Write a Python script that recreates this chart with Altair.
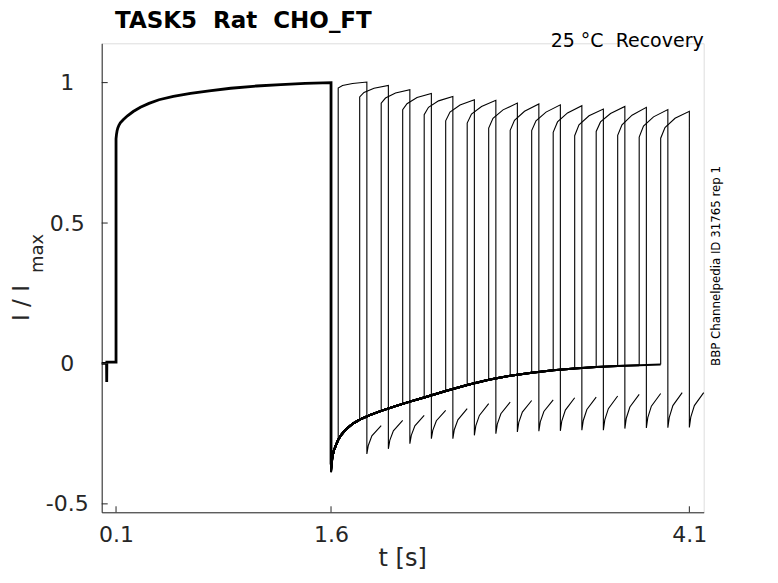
import altair as alt
import pandas as pd

# ---------------- data ----------------
# common first part (holding + conditioning pulse), identical in all sweeps
pre_t = [0.0, 0.034, 0.035, 0.036, 0.1, 0.1, 0.103, 0.107, 0.112, 0.12, 0.13, 0.15, 0.18, 0.22,
         0.27, 0.33, 0.40, 0.50, 0.62, 0.75, 0.90, 1.08, 1.25, 1.42, 1.6, 1.6]
pre_v = [0.0, 0.0, -0.066, 0.005, 0.005, 0.80, 0.815, 0.828, 0.838, 0.848, 0.857, 0.868, 0.882, 0.897,
         0.912, 0.926, 0.939, 0.951, 0.962, 0.971, 0.980, 0.988, 0.993, 0.997, 1.0, -0.36]

# tail current after the conditioning pulse (shared shape)
tail_t = [1.61, 1.62, 1.635, 1.65, 1.67, 1.70, 1.75, 1.80, 1.87, 1.95, 2.05, 2.15, 2.25, 2.40,
          2.55, 2.70, 2.85, 3.00, 3.15, 3.30, 3.45, 3.60, 3.75, 3.90]
tail_v = [-0.33, -0.31, -0.29, -0.272, -0.255, -0.237, -0.215, -0.200, -0.184, -0.169, -0.152, -0.136,
          -0.121, -0.098, -0.077, -0.058, -0.044, -0.033, -0.024, -0.018, -0.013, -0.009, -0.006, -0.004]

# per sweep
rec_start = [1.65, 1.80, 1.95, 2.10, 2.25, 2.40, 2.55, 2.70, 2.85, 3.00, 3.15, 3.30, 3.45, 3.60, 3.75, 3.90]
rec_end = [1.85, 2.00, 2.15, 2.30, 2.45, 2.60, 2.75, 2.90, 3.05, 3.20, 3.35, 3.50, 3.65, 3.80, 3.95, 4.10]
tail_min = [-0.335, -0.34, -0.345, -0.35, -0.355, -0.36, -0.365, -0.37, -0.372, -0.375, -0.378, -0.38, -0.382, -0.384, -0.386, -0.388]
tail_at_start = [-0.272, -0.200, -0.169, -0.144, -0.121, -0.098, -0.077, -0.058, -0.044, -0.033, -0.024, -0.018, -0.013, -0.009, -0.006, -0.004]

# test pulse (offsets from its start)
pulse_dt = [0.0, 0.03, 0.10, 0.20]
pulse_v0 = [0.981, 0.949, 0.927, 0.904, 0.886, 0.864, 0.856, 0.838, 0.830, 0.829, 0.823, 0.811, 0.826, 0.812, 0.806, 0.802]
pulse_v1 = [0.990, 0.965, 0.945, 0.925, 0.912, 0.895, 0.888, 0.873, 0.866, 0.864, 0.860, 0.850, 0.860, 0.850, 0.845, 0.840]
pulse_v2 = [0.997, 0.980, 0.963, 0.947, 0.935, 0.920, 0.915, 0.903, 0.898, 0.895, 0.892, 0.882, 0.890, 0.884, 0.878, 0.873]
pulse_v3 = [1.002, 0.990, 0.975, 0.961, 0.951, 0.939, 0.937, 0.927, 0.924, 0.921, 0.918, 0.906, 0.915, 0.912, 0.904, 0.898]

# tail hook after the test pulse (offsets from its end)
hook_dt = [0.0, 0.01, 0.035, 0.10]
hook_v0 = [-0.322, -0.304, -0.286, -0.268, -0.268, -0.256, -0.250, -0.244, -0.241, -0.240, -0.238, -0.238, -0.232, -0.230, -0.229, -0.228]
hook_v1 = [-0.292, -0.274, -0.256, -0.238, -0.236, -0.222, -0.216, -0.210, -0.208, -0.205, -0.203, -0.201, -0.195, -0.193, -0.192, -0.191]
hook_v2 = [-0.258, -0.240, -0.222, -0.204, -0.201, -0.185, -0.179, -0.173, -0.171, -0.166, -0.164, -0.161, -0.155, -0.152, -0.150, -0.150]
hook_v3 = [-0.221, -0.203, -0.185, -0.167, -0.161, -0.143, -0.138, -0.132, -0.130, -0.122, -0.120, -0.116, -0.110, -0.107, -0.104, -0.104]

x_ticks = [0.1, 1.6, 4.1]
y_ticks = [-0.5, 0, 0.5, 1]

# ---------------- build tables ----------------
pre_rows = [{"seg": "pre", "i": j, "t": t, "v": v} for j, (t, v) in enumerate(zip(pre_t, pre_v))]

tail_rows = []
pulse_rows = []
for k in range(len(rec_start)):
    s = rec_start[k]
    e = rec_end[k]
    pts = [(1.6, tail_min[k])] + [(t, v) for t, v in zip(tail_t, tail_v) if t < s - 1e-9] + [(s, tail_at_start[k])]
    for j, (t, v) in enumerate(pts):
        tail_rows.append({"seg": f"tail{k}", "i": j, "t": t, "v": v})
    pv = [pulse_v0[k], pulse_v1[k], pulse_v2[k], pulse_v3[k]]
    hv = [hook_v0[k], hook_v1[k], hook_v2[k], hook_v3[k]]
    pts2 = [(s, tail_at_start[k])]
    pts2 += [(s + d, v) for d, v in zip(pulse_dt, pv)]
    pts2 += [(e + d, v) for d, v in zip(hook_dt, hv)]
    for j, (t, v) in enumerate(pts2):
        pulse_rows.append({"seg": f"pulse{k}", "i": j, "t": t, "v": v})

df_pre = pd.DataFrame(pre_rows)
df_tail = pd.DataFrame(tail_rows)
df_pulse = pd.DataFrame(pulse_rows)

# ---------------- chart ----------------
W, H = 602, 469
AX = "#262626"
FONT = "DejaVu Sans"

x_scale = alt.Scale(domain=[0, 4.2], nice=False, zero=False)
y_scale = alt.Scale(domain=[-0.53, 1.14], nice=False, zero=False)

x_axis = alt.Axis(values=x_ticks, labelExpr="format(datum.value, '.1f')", title=None, grid=False, ticks=False,
                  domainColor=AX, labelColor=AX, labelFont=FONT, labelFontSize=22,
                  labelPadding=12, labelFlush=False)
y_axis = alt.Axis(values=y_ticks, title=None, grid=False, ticks=False,
                  labelExpr="datum.value < 0 ? '-' + format(-datum.value, '~g') : format(datum.value, '~g')",
                  domainColor=AX, labelColor=AX, labelFont=FONT, labelFontSize=22,
                  labelAlign="center", labelBaseline="middle", labelPadding=35, labelFlush=False)

X = alt.X("t:Q", scale=x_scale, axis=x_axis)
Y = alt.Y("v:Q", scale=y_scale, axis=y_axis)

pre = alt.Chart(df_pre).mark_line(color="black", strokeWidth=2.8).encode(
    x=X, y=Y, order="i:Q", detail="seg:N")
tails = alt.Chart(df_tail).mark_line(color="black", strokeWidth=2.0).encode(
    x=X, y=Y, order="i:Q", detail="seg:N")
pulses = alt.Chart(df_pulse).mark_line(color="black", strokeWidth=1.1).encode(
    x=X, y=Y, order="i:Q", detail="seg:N")

xt = alt.Chart(pd.DataFrame({"t": x_ticks})).mark_rule(color=AX, strokeWidth=1).encode(
    x=X, y=alt.value(H), y2=alt.value(H - 6))
yt = alt.Chart(pd.DataFrame({"v": y_ticks})).mark_rule(color=AX, strokeWidth=1).encode(
    y=Y, x=alt.value(0), x2=alt.value(6))


def label(txt, x, y, size, color="black", angle=0, **kw):
    return alt.Chart(pd.DataFrame({"s": [txt]})).mark_text(
        font=FONT, fontSize=size, color=color, angle=angle, **kw).encode(
        text="s:N", x=alt.value(x), y=alt.value(y))


title = label("TASK5\u00a0\u00a0Rat\u00a0\u00a0CHO_FT", 13.3, -15.3, 23, fontWeight="bold",
              align="left", baseline="alphabetic")
cond = label("25\u00a0°C\u00a0\u00a0Recovery", W, 3.7, 19, align="right", baseline="alphabetic")
xlab = label("t [s]", W / 2, 522.7, 24, color=AX, align="center", baseline="alphabetic")
ylab1 = label("I\u00a0/\u00a0I", -72.7, 277.7, 23, color=AX, angle=270, align="left", baseline="alphabetic")
ylab2 = label("max", -58.7, 229.7, 18, color=AX, angle=270, align="left", baseline="alphabetic")
side = label("BBP Channelpedia ID 31765 rep 1", 618.5, 222.7, 11.8, angle=270,
             align="center", baseline="alphabetic")

chart = alt.layer(pre, tails, pulses, xt, yt, title, cond, xlab, ylab1, ylab2, side).properties(
    width=W, height=H,
    autosize=alt.AutoSizeParams(type="none"),
    padding={"left": 93.7, "top": 35.3, "right": 60, "bottom": 60},
).configure_view(stroke=None).configure(background="white")

chart.save("out.html", embed_options={"renderer": "svg", "actions": False})
